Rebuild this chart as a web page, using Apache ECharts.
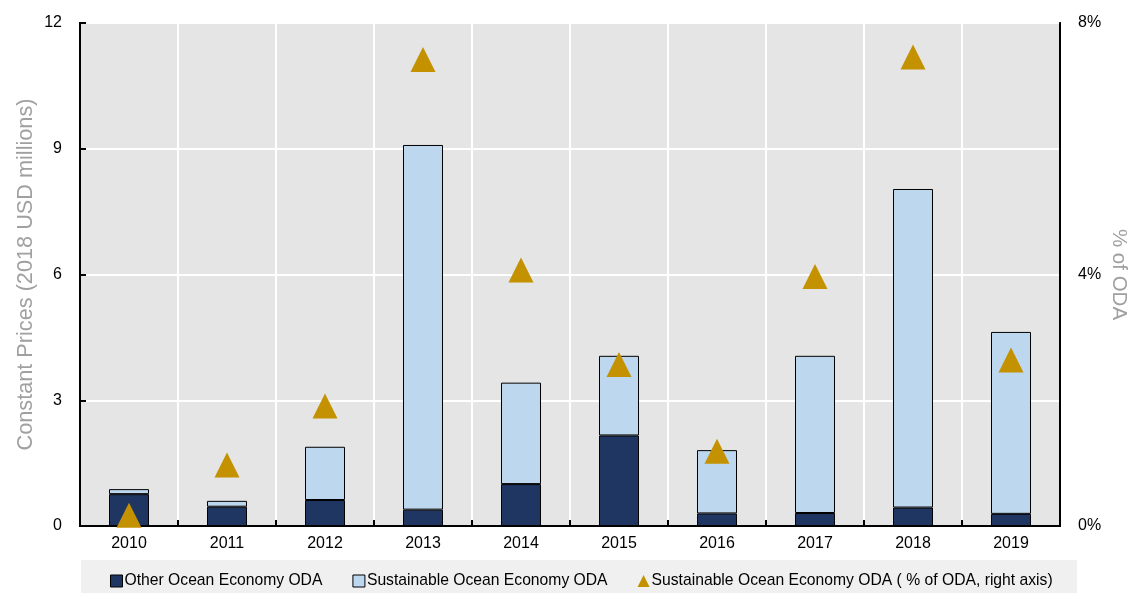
<!DOCTYPE html>
<html>
<head>
<meta charset="utf-8">
<script src="https://cdn.jsdelivr.net/npm/echarts@6/dist/echarts.min.js"></script>
<style>
html,body{margin:0;padding:0;background:#fff;}
#chart{width:1137px;height:593px;}
</style>
</head>
<body>
<div id="chart"></div>
<script>
const years = ['2010','2011','2012','2013','2014','2015','2016','2017','2018','2019'];
const otherODA = [0.76, 0.46, 0.62, 0.39, 1.00, 2.16, 0.30, 0.31, 0.44, 0.29];
const sustainableODA = [0.12, 0.14, 1.27, 8.70, 2.42, 1.90, 1.51, 3.75, 7.60, 4.34];
const sustainablePct = [0.17, 0.97, 1.91, 7.42, 4.07, 2.57, 1.19, 3.97, 7.46, 2.64];
const leftTicks = [0, 3, 6, 9, 12];
const rightTicks = [0, 4, 8];

const FONT = '"Liberation Sans", Arial, sans-serif';
const chart = echarts.init(document.getElementById('chart'), null, {renderer:'canvas'});
chart.setOption({
  animation: false,
  textStyle: {fontFamily: FONT},
  graphic: [{
    type: 'rect', left: 81, top: 560, z: -1,
    shape: {width: 996, height: 33},
    style: {fill: '#f0f0f0'}
  }],
  legend: {
    left: 105, top: 568, itemGap: 30, itemWidth: 12, itemHeight: 12,
    textStyle: {fontFamily: FONT, fontSize: 15.7, color: '#000', padding: [0,0,0,-3]},
    data: [
      {name: 'Other Ocean Economy ODA', icon: 'rect', itemStyle: {borderColor: '#000', borderWidth: 1}},
      {name: 'Sustainable Ocean Economy ODA', icon: 'rect', itemStyle: {borderColor: '#000', borderWidth: 1}},
      {name: 'Sustainable Ocean Economy ODA ( % of ODA, right axis)', icon: 'triangle', itemWidth: 11, itemHeight: 10}
    ]
  },
  grid: {
    left: 80, right: 77, top: 23, bottom: 67,
    outerBoundsMode: 'none', containLabel: false,
    show: true, backgroundColor: '#e5e5e5', borderColor: '#000', borderWidth: 2
  },
  xAxis: {
    type: 'category', data: years,
    axisLine: {show: true, lineStyle: {color: '#000', width: 2}},
    axisTick: {show: true, inside: true, length: 6, lineStyle: {color: '#000', width: 2}},
    axisLabel: {color: '#000', fontSize: 16, margin: 10, fontFamily: FONT},
    splitLine: {show: true, interval: 0, lineStyle: {color: '#fff', width: 2}}
  },
  yAxis: [{
    type: 'value', min: 0, max: 12, interval: 3,
    name: 'Constant Prices (2018 USD millions)', nameLocation: 'middle', nameGap: 43,
    nameMoveOverlap: false,
    nameTextStyle: {color: '#a0a0a0', fontSize: 21.7, fontFamily: FONT},
    axisLine: {show: true, lineStyle: {color: '#000', width: 2}},
    axisTick: {show: true, inside: true, length: 6, lineStyle: {color: '#000', width: 2}},
    axisLabel: {color: '#000', fontSize: 16, margin: 18, fontFamily: FONT,
      formatter: v => leftTicks.includes(v) ? String(v) : ''},
    splitLine: {show: true, lineStyle: {color: '#fff', width: 2}}
  }, {
    type: 'value', min: 0, max: 8, interval: 4, position: 'right',
    name: '% of ODA', nameLocation: 'middle', nameGap: 48, nameRotate: -90,
    nameMoveOverlap: false,
    nameTextStyle: {color: '#a0a0a0', fontSize: 20.5, fontFamily: FONT},
    axisLine: {show: true, lineStyle: {color: '#000', width: 2}},
    axisTick: {show: false},
    axisLabel: {color: '#000', fontSize: 16, margin: 18, fontFamily: FONT,
      formatter: v => rightTicks.includes(v) ? v + '%' : ''},
    splitLine: {show: false}
  }],
  series: [{
    name: 'Other Ocean Economy ODA', type: 'bar', stack: 'oda', barWidth: 40,
    data: otherODA,
    itemStyle: {color: '#1f3662', borderColor: '#000', borderWidth: 1}
  }, {
    name: 'Sustainable Ocean Economy ODA', type: 'bar', stack: 'oda', barWidth: 40,
    data: sustainableODA,
    itemStyle: {color: '#bdd7ee', borderColor: '#000', borderWidth: 1}
  }, {
    name: 'Sustainable Ocean Economy ODA ( % of ODA, right axis)', type: 'scatter', yAxisIndex: 1,
    symbol: 'triangle', symbolSize: [25, 25],
    data: sustainablePct,
    itemStyle: {color: '#c49200', opacity: 1}, z: 5
  }]
});
</script>
</body>
</html>
